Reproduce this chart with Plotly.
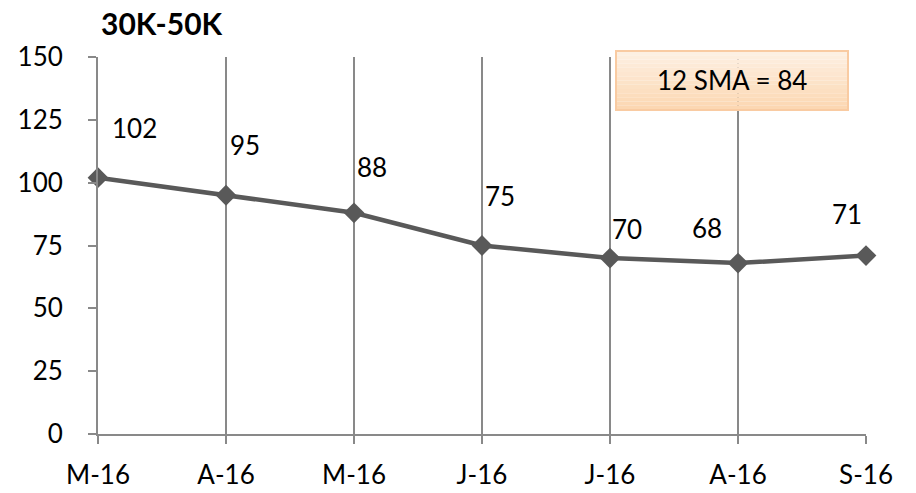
import plotly.graph_objects as go

# Monthly index values for the 30K-50K segment
months = ["M-16", "A-16", "M-16", "J-16", "J-16", "A-16", "S-16"]
values = [102, 95, 88, 75, 70, 68, 71]
sma_label = "12 SMA = 84"
y_ticks = [0, 25, 50, 75, 100, 125, 150]

# pixel offsets for each value label relative to its point
label_dx = [36, 19, 18, 18, 17, -31, -19]
label_dy = [50, 50, 46, 50, 29, 35, 42]

FONT = "Lato, Carlito, Calibri, sans-serif"
x_pos = list(range(len(months)))

# plot-area geometry in pixels, used to place paper-referenced items
L, R, T, B = 98, 866, 57, 434
PW, PH = R - L, B - T


def px_x(px):
    return (px - L) / PW


def px_y(py):
    return (B - py) / PH


fig = go.Figure()
fig.add_trace(go.Scatter(
    x=x_pos, y=values, mode="lines+markers",
    line=dict(color="#595959", width=4.5),
    marker=dict(symbol="diamond", size=16, color="#595959"),
    cliponaxis=False, hoverinfo="skip", showlegend=False,
))

annotations = []
for xi, v, dx, dy in zip(x_pos, values, label_dx, label_dy):
    annotations.append(dict(
        x=xi, y=v, xref="x", yref="y", text=str(v), showarrow=False,
        xanchor="center", yanchor="middle",
        xshift=dx, yshift=dy, font=dict(family=FONT, size=26, color="#000000"),
    ))

# chart title
annotations.append(dict(
    x=px_x(99), y=px_y(23), xref="paper", yref="paper", xanchor="left", yanchor="middle",
    text="<b>30K-50K</b>", showarrow=False, font=dict(family=FONT, size=30, color="#000000"),
))

# SMA callout box with a soft vertical orange gradient
bx0, bx1 = px_x(616), px_x(848)
by0, by1 = px_y(110), px_y(51)
shapes = []
n = 14
top = (253, 240, 226)
bot = (252, 215, 178)
for i in range(n):
    t = i / (n - 1)
    c = tuple(round(top[k] + (bot[k] - top[k]) * t) for k in range(3))
    ya = by1 - (by1 - by0) * i / n
    yb = by1 - (by1 - by0) * (i + 1) / n
    shapes.append(dict(type="rect", xref="paper", yref="paper", x0=bx0, x1=bx1,
                       y0=yb, y1=ya, line=dict(width=0), fillcolor=f"rgb{c}", layer="above"))
shapes.append(dict(type="rect", xref="paper", yref="paper", x0=bx0, x1=bx1, y0=by0, y1=by1,
                   line=dict(color="#f9cba2", width=2), fillcolor="rgba(0,0,0,0)", layer="above"))
annotations.append(dict(
    x=(bx0 + bx1) / 2, y=(by0 + by1) / 2, xref="paper", yref="paper", text=sma_label,
    xanchor="center", yanchor="middle",
    showarrow=False, font=dict(family=FONT, size=26, color="#000000"),
))

fig.update_layout(
    width=916, height=493,
    margin=dict(l=L, r=916 - R, t=T, b=493 - B),
    paper_bgcolor="white", plot_bgcolor="white",
    annotations=annotations, shapes=shapes,
    font=dict(family=FONT, size=26, color="#000000"),
)
fig.update_xaxes(
    range=[0, len(months) - 1], tickmode="array", tickvals=x_pos, ticktext=months,
    showgrid=True, gridcolor="#898989", gridwidth=1.5,
    showline=True, linecolor="#898989", linewidth=2,
    ticks="outside", ticklen=8, tickcolor="#898989", tickwidth=2,
    ticklabelstandoff=9, zeroline=False, automargin=False,
    tickfont=dict(family=FONT, size=26, color="#000000"),
)
fig.update_yaxes(
    range=[0, 150], tickmode="array", tickvals=y_ticks,
    showgrid=False, showline=True, linecolor="#898989", linewidth=2,
    ticks="outside", ticklen=8, tickcolor="#898989", tickwidth=2,
    ticklabelstandoff=20, zeroline=False, automargin=False,
    tickfont=dict(family=FONT, size=26, color="#000000"),
)

fig.write_html("out.html")
